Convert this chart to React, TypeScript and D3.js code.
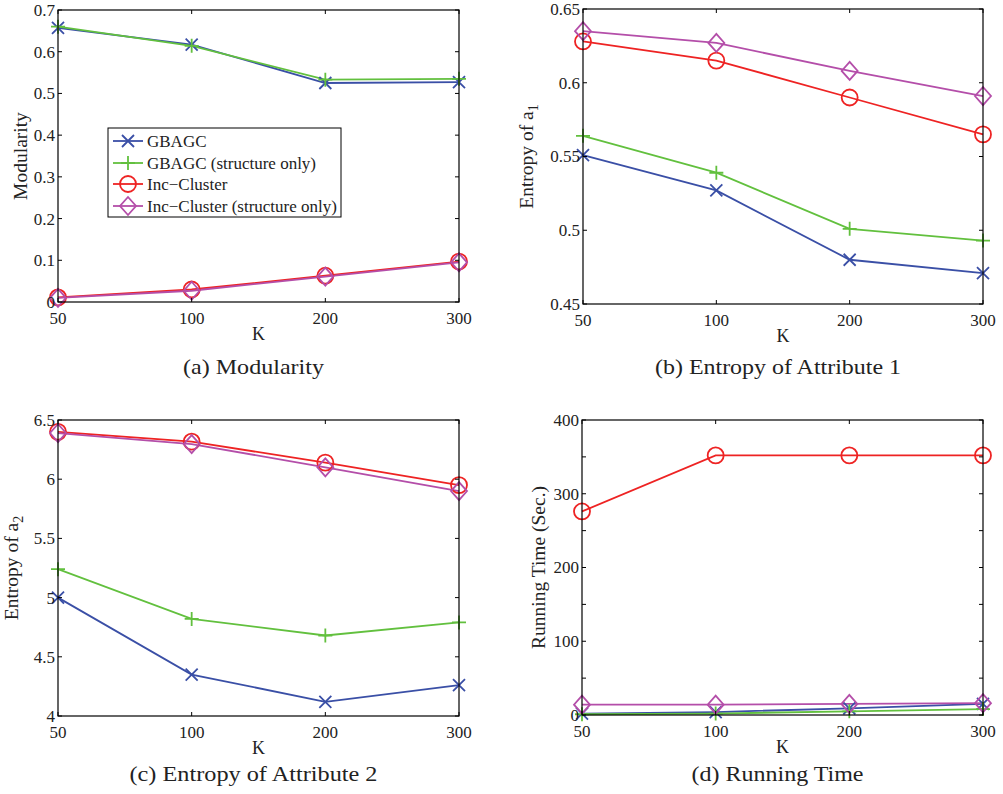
import React from "react";
import * as d3 from "d3";

// x categories shared by all four panels
const kValues = ["50", "100", "200", "300"];

const seriesNames = [
  "GBAGC",
  "GBAGC (structure only)",
  "Inc\u2212Cluster",
  "Inc\u2212Cluster (structure only)",
];
const seriesColors = ["#3a4fa6", "#62c03e", "#ee2323", "#b44ea9"];
const seriesMarkers = ["x", "plus", "circle", "diamond"];

// (a) Modularity
const modGbagc = [0.657, 0.617, 0.525, 0.527];
const modGbagcStruct = [0.66, 0.614, 0.533, 0.535];
const modInc = [0.011, 0.03, 0.063, 0.097];
const modIncStruct = [0.01, 0.027, 0.061, 0.095];
const modTicks = [0, 0.1, 0.2, 0.3, 0.4, 0.5, 0.6, 0.7];

// (b) Entropy of attribute 1
const ent1Gbagc = [0.551, 0.527, 0.48, 0.471];
const ent1GbagcStruct = [0.564, 0.539, 0.501, 0.493];
const ent1Inc = [0.628, 0.615, 0.59, 0.565];
const ent1IncStruct = [0.635, 0.627, 0.608, 0.591];
const ent1Ticks = [0.45, 0.5, 0.55, 0.6, 0.65];

// (c) Entropy of attribute 2
const ent2Gbagc = [5.0, 4.35, 4.12, 4.26];
const ent2GbagcStruct = [5.24, 4.82, 4.68, 4.79];
const ent2Inc = [6.4, 6.317, 6.14, 5.95];
const ent2IncStruct = [6.39, 6.297, 6.1, 5.9];
const ent2Ticks = [4, 4.5, 5, 5.5, 6, 6.5];

// (d) Running time
const timeGbagc = [2, 4, 9, 15];
const timeGbagcStruct = [1, 2, 5, 8];
const timeInc = [276, 352, 352, 352];
const timeIncStruct = [14, 14, 15, 16];
const timeTicks = [0, 50, 100, 150, 200, 250, 300, 350, 400];
const timeLabels = [0, 100, 200, 300, 400];

const FONT = "'Liberation Serif', 'Times New Roman', serif";

function Marker({ kind, x, y, color }) {
  const sw = 1.8;
  if (kind === "circle")
    return <circle cx={x} cy={y} r={8} fill="none" stroke={color} strokeWidth={sw} />;
  if (kind === "diamond")
    return (
      <path
        d={`M${x},${y - 9}L${x + 8},${y}L${x},${y + 9}L${x - 8},${y}Z`}
        fill="none"
        stroke={color}
        strokeWidth={sw}
      />
    );
  if (kind === "plus")
    return (
      <path
        d={`M${x - 7},${y}H${x + 7}M${x},${y - 7}V${y + 7}`}
        stroke={color}
        strokeWidth={sw}
      />
    );
  return (
    <path
      d={`M${x - 6},${y - 6}L${x + 6},${y + 6}M${x - 6},${y + 6}L${x + 6},${y - 6}`}
      stroke={color}
      strokeWidth={sw}
    />
  );
}

function Panel({ box, domain, ticks, labels, fmt, series, yLabel, yLabelX, caption, captionY, captionW }) {
  const x = d3.scalePoint().domain(kValues).range([box.left, box.right]);
  const y = d3.scaleLinear().domain(domain).range([box.bottom, box.top]);
  const tl = 4;
  const line = d3
    .line()
    .x((d, i) => x(kValues[i]))
    .y((d) => y(d));
  const midY = (box.top + box.bottom) / 2;
  return (
    <g>
      {series.map((vals, si) => (
        <path
          key={"l" + si}
          d={line(vals)}
          fill="none"
          stroke={seriesColors[si]}
          strokeWidth={1.8}
        />
      ))}
      {series.map((vals, si) =>
        vals.map((v, i) => (
          <Marker
            key={"m" + si + "-" + i}
            kind={seriesMarkers[si]}
            x={x(kValues[i])}
            y={y(v)}
            color={seriesColors[si]}
          />
        ))
      )}
      <rect
        x={box.left}
        y={box.top}
        width={box.right - box.left}
        height={box.bottom - box.top}
        fill="none"
        stroke="#000"
        strokeWidth={1.2}
      />
      {ticks.map((t) => (
        <g key={"yt" + t}>
          <line x1={box.left} x2={box.left + tl} y1={y(t)} y2={y(t)} stroke="#000" />
          <line x1={box.right} x2={box.right - tl} y1={y(t)} y2={y(t)} stroke="#000" />
        </g>
      ))}
      {labels.map((t) => (
        <text
          key={"yl" + t}
          x={box.left - 3}
          y={y(t)}
          dy="0.35em"
          textAnchor="end"
          fontFamily={FONT}
          fontSize={17}
          fill="#222"
        >
          {fmt(t)}
        </text>
      ))}
      {kValues.map((k) => (
        <g key={"xt" + k}>
          <line x1={x(k)} x2={x(k)} y1={box.bottom} y2={box.bottom - tl} stroke="#000" />
          <line x1={x(k)} x2={x(k)} y1={box.top} y2={box.top + tl} stroke="#000" />
          <text
            x={x(k)}
            y={box.bottom + 22}
            textAnchor="middle"
            fontFamily={FONT}
            fontSize={17}
            fill="#222"
          >
            {k}
          </text>
        </g>
      ))}
      <text
        x={(box.left + box.right) / 2}
        y={box.bottom + 38}
        textAnchor="middle"
        fontFamily={FONT}
        fontSize={18}
        fill="#222"
      >
        K
      </text>
      <text
        transform={`translate(${yLabelX},${midY}) rotate(-90)`}
        textAnchor="middle"
        fontFamily={FONT}
        fontSize={19.5}
        fill="#222"
      >
        {yLabel}
      </text>
      <text
        x={(box.left + box.right) / 2 - 5}
        y={captionY}
        textAnchor="middle"
        fontFamily={FONT}
        fontSize={21}
        textLength={captionW}
        lengthAdjust="spacingAndGlyphs"
        fill="#222"
      >
        {caption}
      </text>
    </g>
  );
}

function Legend({ x0, y0, w, h }) {
  const rowY = [13, 35, 56, 78];
  return (
    <g>
      <rect x={x0} y={y0} width={w} height={h} fill="#fff" stroke="#000" strokeWidth={1} />
      {seriesNames.map((name, i) => (
        <g key={name}>
          <line
            x1={x0 + 5}
            x2={x0 + 35}
            y1={y0 + rowY[i]}
            y2={y0 + rowY[i]}
            stroke={seriesColors[i]}
            strokeWidth={1.8}
          />
          <Marker kind={seriesMarkers[i]} x={x0 + 20} y={y0 + rowY[i]} color={seriesColors[i]} />
          <text
            x={x0 + 39}
            y={y0 + rowY[i]}
            dy="0.35em"
            fontFamily={FONT}
            fontSize={17}
            fill="#222"
          >
            {name}
          </text>
        </g>
      ))}
    </g>
  );
}

const sub = (base, s) => (
  <>
    {base}
    <tspan dy="5" fontSize={14}>
      {s}
    </tspan>
  </>
);

export default function App() {
  const plain = (t) => String(t);
  return (
    <svg
      width={1003}
      height={794}
      style={{ position: "absolute", left: 0, top: 0, background: "#fff" }}
    >
      <rect width={1003} height={794} fill="#fff" />
      <Panel
        box={{ left: 58, right: 459, top: 10, bottom: 302 }}
        domain={[0, 0.7]}
        ticks={modTicks}
        labels={modTicks}
        fmt={plain}
        series={[modGbagc, modGbagcStruct, modInc, modIncStruct]}
        yLabel="Modularity"
        yLabelX={27}
        caption="(a)  Modularity"
        captionY={374}
        captionW={141}
      />
      <Legend x0={108} y0={128} w={233} h={89} />
      <Panel
        box={{ left: 583, right: 983, top: 9, bottom: 304 }}
        domain={[0.45, 0.65]}
        ticks={ent1Ticks}
        labels={ent1Ticks}
        fmt={plain}
        series={[ent1Gbagc, ent1GbagcStruct, ent1Inc, ent1IncStruct]}
        yLabel={sub("Entropy of a", "1")}
        yLabelX={533}
        caption="(b)  Entropy of Attribute 1"
        captionY={374}
        captionW={246}
      />
      <Panel
        box={{ left: 58, right: 459, top: 420, bottom: 716 }}
        domain={[4, 6.5]}
        ticks={ent2Ticks}
        labels={ent2Ticks}
        fmt={plain}
        series={[ent2Gbagc, ent2GbagcStruct, ent2Inc, ent2IncStruct]}
        yLabel={sub("Entropy of a", "2")}
        yLabelX={18}
        caption="(c)  Entropy of Attribute 2"
        captionY={781}
        captionW={248}
      />
      <Panel
        box={{ left: 582, right: 983, top: 420, bottom: 715 }}
        domain={[0, 400]}
        ticks={timeTicks}
        labels={timeLabels}
        fmt={plain}
        series={[timeGbagc, timeGbagcStruct, timeInc, timeIncStruct]}
        yLabel="Running Time (Sec.)"
        yLabelX={545}
        caption="(d)  Running Time"
        captionY={781}
        captionW={172}
      />
    </svg>
  );
}
